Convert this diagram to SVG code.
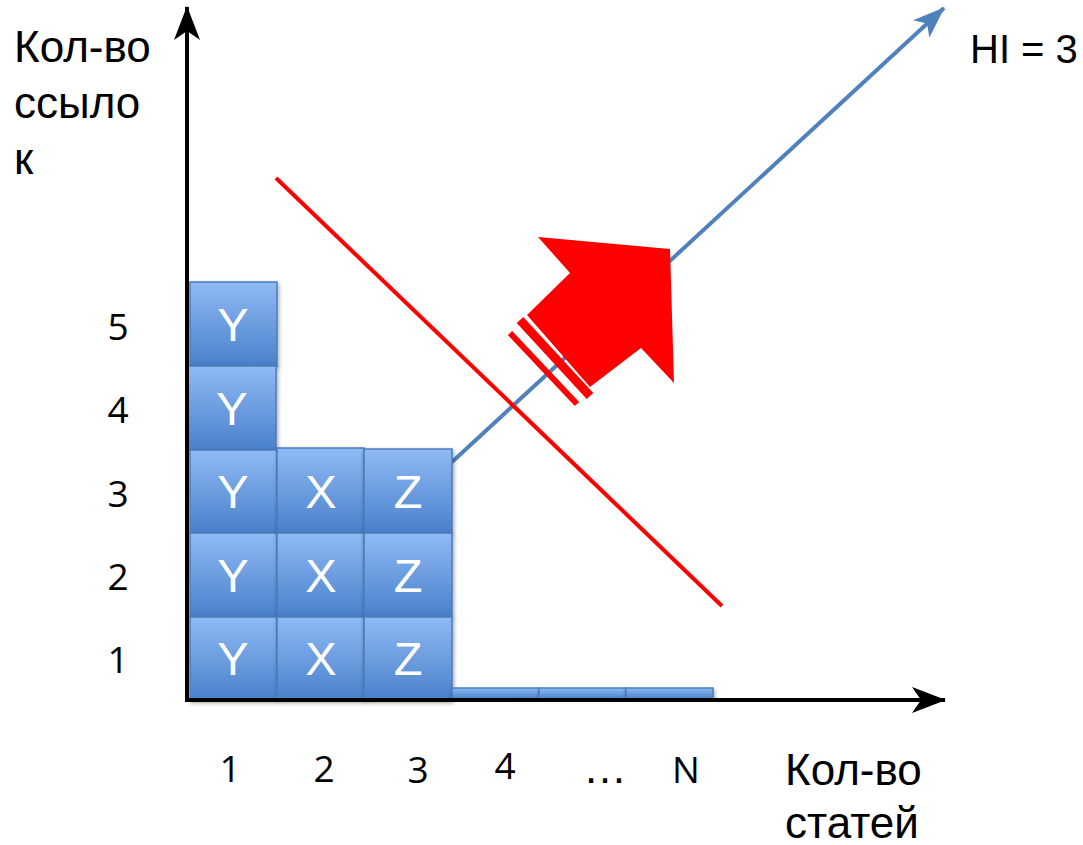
<svg xmlns="http://www.w3.org/2000/svg" width="1083" height="845" viewBox="0 0 1083 845">
<style>
.t{font-family:"Liberation Sans",Arial,sans-serif;font-size:44px;fill:#000}
.n{font-family:"Open Sans","Liberation Sans",sans-serif;font-size:37px;fill:#000;text-anchor:middle}
.b{fill:url(#g);stroke:#4a7ebb;stroke-width:1.5;filter:url(#sh)}
.bl{font-family:"Liberation Sans",Arial,sans-serif;font-size:47px;fill:#fff;text-anchor:middle}
</style>
<defs>
<linearGradient id="g" x1="0" y1="0" x2="0" y2="1">
<stop offset="0" stop-color="#8fbaf5"/>
<stop offset="1" stop-color="#4a80ca"/>
</linearGradient>
<filter id="sh" x="-10%" y="-10%" width="130%" height="130%">
<feGaussianBlur in="SourceAlpha" stdDeviation="2"/>
<feOffset dx="1" dy="2"/>
<feComponentTransfer><feFuncA type="linear" slope="0.4"/></feComponentTransfer>
<feMerge><feMergeNode/><feMergeNode in="SourceGraphic"/></feMerge>
</filter>
<marker id="ak" markerWidth="34" markerHeight="26" refX="33" refY="13" orient="auto" markerUnits="userSpaceOnUse" viewBox="0 0 34 26">
<path d="M0,0 L34,13 L0,26 L9,13 Z" fill="#000"/>
</marker>
<marker id="ab" markerWidth="32" markerHeight="24" refX="31" refY="12" orient="auto" markerUnits="userSpaceOnUse" viewBox="0 0 32 24">
<path d="M0,0 L32,12 L0,24 L8,12 Z" fill="#4f81bd"/>
</marker>
</defs>
<rect width="1083" height="845" fill="#fff"/>

<g id="connectors">
<line x1="452" y1="462" x2="944" y2="8" stroke="#4f81bd" stroke-width="4" marker-end="url(#ab)"/>
<line x1="276" y1="178" x2="722" y2="606" stroke="#ff0000" stroke-width="4"/>
</g>

<g id="boxes">
<g id="y5"><rect class="b" x="190" y="282" width="87" height="84"/><text class="bl" x="233" y="341">Y</text></g>
<g id="y4"><rect class="b" x="188" y="366" width="88" height="84"/><text class="bl" x="232" y="425">Y</text></g>
<g id="y3"><rect class="b" x="190" y="450" width="87" height="83"/><text class="bl" x="233" y="508">Y</text></g>
<g id="y2"><rect class="b" x="190" y="533" width="87" height="84"/><text class="bl" x="233" y="592">Y</text></g>
<g id="y1"><rect class="b" x="190" y="617" width="87" height="83"/><text class="bl" x="233" y="675">Y</text></g>
<g id="x3"><rect class="b" x="277" y="448" width="87" height="85"/><text class="bl" x="321" y="508">X</text></g>
<g id="x2"><rect class="b" x="277" y="533" width="87" height="84"/><text class="bl" x="321" y="592">X</text></g>
<g id="x1"><rect class="b" x="277" y="617" width="87" height="83"/><text class="bl" x="321" y="675">X</text></g>
<g id="z3"><rect class="b" x="364" y="449" width="88" height="84"/><text class="bl" x="408" y="508">Z</text></g>
<g id="z2"><rect class="b" x="364" y="533" width="88" height="84"/><text class="bl" x="408" y="592">Z</text></g>
<g id="z1"><rect class="b" x="364" y="617" width="88" height="83"/><text class="bl" x="408" y="675">Z</text></g>
<g id="f4"><rect class="b" x="452" y="688" width="87" height="11"/></g>
<g id="f5"><rect class="b" x="539" y="688" width="87" height="11"/></g>
<g id="fN"><rect class="b" x="626" y="688" width="87" height="11"/></g>
</g>

<g id="axes">
<line x1="187" y1="701" x2="187" y2="7" stroke="#000" stroke-width="4" marker-end="url(#ak)"/>
<line x1="185" y1="700" x2="945" y2="700" stroke="#000" stroke-width="4" marker-end="url(#ak)"/>
</g>

<g id="bigarrow" fill="#ff0000">
<polygon points="538,237 670,249 674,383 641,348 590,387 527,315 570,273"/>
<line x1="520" y1="320" x2="590" y2="396" stroke="#ff0000" stroke-width="9"/>
<line x1="510" y1="333" x2="577" y2="404" stroke="#ff0000" stroke-width="6"/>
</g>

<g id="labels">
<text class="t" x="14" y="62">Кол-во</text>
<text class="t" x="14" y="118">ссыло</text>
<text class="t" x="14" y="174">к</text>
<text class="t" x="970" y="63" style="font-size:40px">HI = 3</text>
<text class="t" x="785" y="785">Кол-во</text>
<text class="t" x="785" y="838">статей</text>
<text class="n" x="118" y="340">5</text>
<text class="n" x="118" y="423">4</text>
<text class="n" x="118" y="507">3</text>
<text class="n" x="118" y="590">2</text>
<text class="n" x="118" y="673">1</text>
<text class="n" x="230" y="782">1</text>
<text class="n" x="324" y="782">2</text>
<text class="n" x="418" y="783">3</text>
<text class="n" x="505" y="779">4</text>
<text class="n" x="605" y="783" style="font-family:'Liberation Sans',sans-serif;font-size:44px">…</text>
<text class="n" x="686" y="783">N</text>
</g>
</svg>
